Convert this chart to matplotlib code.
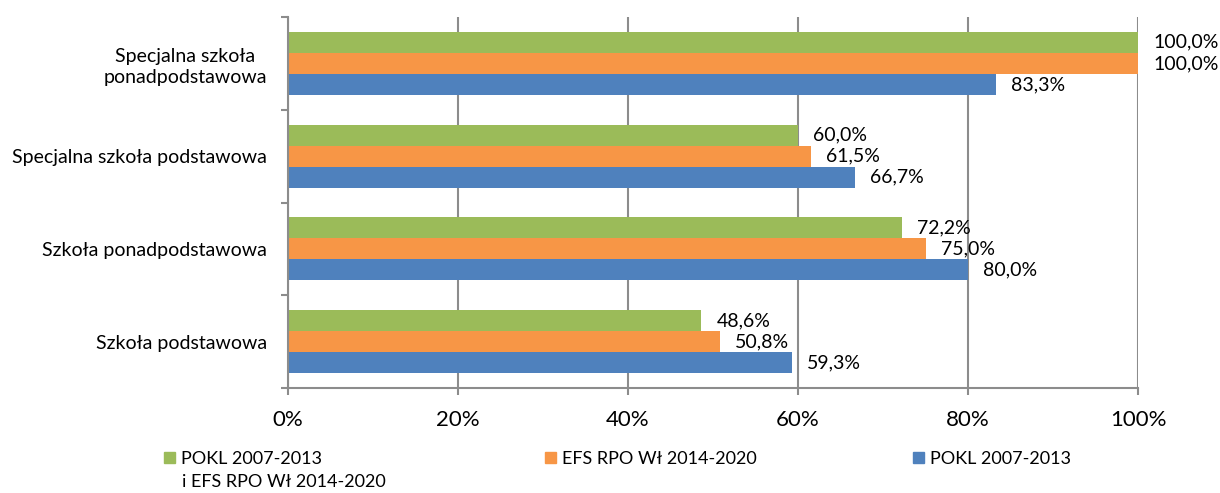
import matplotlib
matplotlib.use("Agg")
import matplotlib.pyplot as plt
import numpy as np
from matplotlib.patches import Patch

plt.rcParams['font.family'] = ['Lato', 'DejaVu Sans']

categories = [
    "Specjalna szkoła\nponadpodstawowa",
    "Specjalna szkoła podstawowa",
    "Szkoła ponadpodstawowa",
    "Szkoła podstawowa",
]
series_names = [
    "POKL 2007-2013",
    "EFS RPO Wł 2014-2020",
    "POKL 2007-2013",
]
series_name_extra = "i EFS RPO Wł 2014-2020"
pokl_efs = [100.0, 60.0, 72.2, 48.6]
efs_rpo = [100.0, 61.5, 75.0, 50.8]
pokl = [83.3, 66.7, 80.0, 59.3]
x_ticks = [0, 20, 40, 60, 80, 100]
x_tick_labels = ["0%", "20%", "40%", "60%", "80%", "100%"]

colors = ["#9BBB59", "#F79646", "#4F81BD"]
grid_color = "#8C8C8C"

W, H = 1220, 493
fig = plt.figure(figsize=(W / 100, H / 100), dpi=100)
ax = fig.add_axes([288 / W, 1 - 388 / H, (1138 - 288) / W, (388 - 17) / H])

y = np.arange(len(categories))
h = 0.227
offsets = [-h, 0, h]
all_series = [pokl_efs, efs_rpo, pokl]

for vals, off, col, name in zip(all_series, offsets, colors, series_names):
    bars = ax.barh(y + off, vals, height=h, color=col, label=name, zorder=3)
    ax.bar_label(bars, labels=[f"{v:.1f}%".replace(".", ",") for v in vals],
                 padding=11, fontsize=14, color="black")

ax.set_xlim(0, 100)
ax.set_ylim(len(categories) - 0.5, -0.5)
ax.set_xticks(x_ticks)
ax.set_xticklabels(x_tick_labels, fontsize=16)
ax.set_yticks(y)
ax.set_yticklabels(categories, fontsize=14, multialignment="center",
                   linespacing=1.3)
ax.set_yticks(np.arange(-0.5, len(categories)), minor=True)

ax.tick_params(axis="y", which="major", length=0, pad=15)
ax.tick_params(axis="y", which="minor", length=5, width=1.5, color=grid_color)
ax.tick_params(axis="x", which="major", length=5, width=1.5, color=grid_color, pad=11)

ax.xaxis.grid(True, color=grid_color, linewidth=1.5, zorder=0)
ax.set_axisbelow(True)
for s in ["top", "right"]:
    ax.spines[s].set_visible(False)
for s in ["left", "bottom"]:
    ax.spines[s].set_color(grid_color)
    ax.spines[s].set_linewidth(1.5)
ax.spines["left"].set_zorder(4)

# Legend entries laid out individually along the bottom
legend_x = [164, 545, 913]
legend_y = 1 - 459 / H
for name, col, lx in zip(series_names, colors, legend_x):
    fig.legend(handles=[Patch(color=col)], labels=[name],
               loc="center left", bbox_to_anchor=(lx / W, legend_y),
               frameon=False, fontsize=13, handlelength=0.62,
               handleheight=0.62, handletextpad=0.3, borderpad=0,
               borderaxespad=0)
fig.text(182 / W, 1 - 482 / H, series_name_extra, fontsize=13,
         ha="left", va="center")

fig.savefig("out.png", dpi=100)
